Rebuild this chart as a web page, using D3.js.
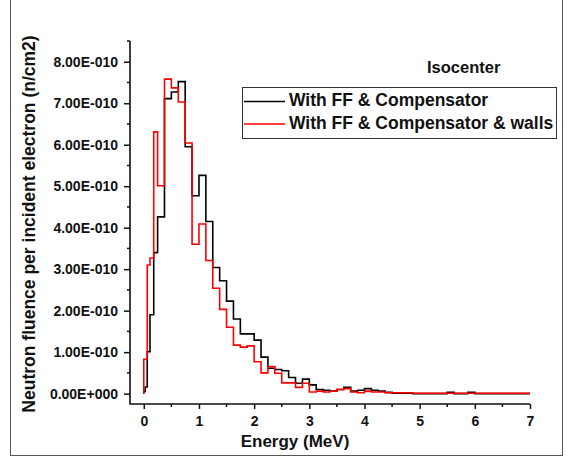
<!DOCTYPE html>
<html>
<head>
<meta charset="utf-8">
<script src="https://cdn.jsdelivr.net/npm/d3@7"></script>
<style>
  body { margin: 0; background: #fff; }
  svg { display: block; }
  text { font-family: "Liberation Sans", Arial, sans-serif; font-weight: bold; fill: #111; }
</style>
</head>
<body>
<div id="chart"></div>
<script>
// Neutron spectrum at isocenter, fluence in units of 1E-010 n/cm2 per incident electron

// bin edges (MeV)
var binEdges = [0, 0.025, 0.0625, 0.1125, 0.18, 0.25, 0.375, 0.5, 0.625, 0.75, 0.875,
  1.0, 1.125, 1.25, 1.375, 1.5, 1.625, 1.75, 1.875, 2.0, 2.125, 2.25, 2.375, 2.5, 2.625,
  2.75, 2.875, 3.0, 3.125, 3.25, 3.375, 3.5, 3.625, 3.75, 3.875, 4.0, 4.125, 4.25, 4.375,
  4.5, 4.625, 4.75, 4.875, 5.0, 5.125, 5.25, 5.375, 5.5, 5.625, 5.75, 5.875, 6.0, 6.125,
  6.25, 6.375, 6.5, 6.625, 6.75, 6.875, 7.0];

var withFF = [0.05, 0.16, 1.01, 1.90, 3.40, 4.26, 7.11, 7.27, 7.52, 5.95,
  4.77, 5.26, 4.15, 3.04, 2.72, 2.23, 1.80, 1.44, 1.44, 1.29, 0.88, 0.61, 0.58, 0.55,
  0.39, 0.25, 0.35, 0.21, 0.10, 0.08, 0.06, 0.10, 0.15, 0.06, 0.08, 0.12, 0.08, 0.06,
  0.03, 0.01, 0.01, 0.01, 0.0, 0.0, 0.0, 0.0, 0.0, 0.03, 0.0, 0.0, 0.03, 0.0, 0.0,
  0.0, 0.0, 0.0, 0.0, 0.0, 0.0];

var withWalls = [0.83, 0.83, 3.10, 3.27, 6.31, 5.01, 7.58, 7.37, 7.03, 6.04,
  3.60, 4.09, 3.21, 2.54, 2.03, 1.60, 1.17, 1.12, 1.15, 0.77, 0.50, 0.65, 0.49, 0.26,
  0.26, 0.15, 0.25, 0.04, 0.06, 0.04, 0.06, 0.10, 0.12, 0.04, 0.02, 0.06, 0.04, 0.04,
  0.02, 0.02, 0.02, 0.02, 0.01, 0.01, 0.01, 0.01, 0.01, 0.01, 0.01, 0.01, 0.01, 0.01, 0.01,
  0.01, 0.01, 0.01, 0.01, 0.01, 0.01];

var seriesNames = ["With FF & Compensator", "With FF & Compensator & walls"];
var seriesColors = ["#000000", "#ff0000"];

var xTicks = [0, 1, 2, 3, 4, 5, 6, 7];
var yTicks = [0, 1, 2, 3, 4, 5, 6, 7, 8];
var yTickLabels = ["0.00E+000", "1.00E-010", "2.00E-010", "3.00E-010", "4.00E-010",
  "5.00E-010", "6.00E-010", "7.00E-010", "8.00E-010"];

var W = 567, H = 459;
var plotBox = { left: 130, right: 530, top: 41, bottom: 404 };

var svg = d3.select("#chart").append("svg")
    .attr("width", W)
    .attr("height", H);

// outer frame of the picture
svg.append("rect")
    .attr("x", 10.5).attr("y", -1)
    .attr("width", 552).attr("height", 456.5)
    .attr("fill", "none")
    .attr("stroke", "#555")
    .attr("stroke-width", 1);

var x = d3.scaleLinear().domain([-0.25, 7]).range([plotBox.left, plotBox.right]);
var y = d3.scaleLinear().domain([-0.25, 8.5]).range([plotBox.bottom, plotBox.top]);

svg.append("clipPath").attr("id", "plotclip")
  .append("rect")
    .attr("x", plotBox.left).attr("y", plotBox.top)
    .attr("width", plotBox.right - plotBox.left)
    .attr("height", plotBox.bottom - plotBox.top);

// step lines
function stepPoints(vals) {
  var pts = [[binEdges[0], 0]];
  vals.forEach(function(v, i) {
    pts.push([binEdges[i], v]);
    pts.push([binEdges[i + 1], v]);
  });
  pts.push([binEdges[binEdges.length - 1], 0]);
  return pts;
}

var line = d3.line()
    .x(function(d) { return x(d[0]); })
    .y(function(d) { return y(d[1]); });

var plot = svg.append("g").attr("clip-path", "url(#plotclip)");

[withFF, withWalls].forEach(function(vals, i) {
  plot.append("path")
      .datum(stepPoints(vals))
      .attr("fill", "none")
      .attr("stroke", seriesColors[i])
      .attr("stroke-width", 1.6)
      .attr("d", line);
});

// x axis
var xAxis = d3.axisBottom(x)
    .tickValues(xTicks)
    .tickSize(5)
    .tickPadding(7)
    .tickFormat(d3.format("d"));

var gx = svg.append("g")
    .attr("transform", "translate(0," + plotBox.bottom + ")")
    .call(xAxis);
gx.selectAll(".tick line").attr("stroke", "#111").attr("stroke-width", 1.5);
gx.selectAll(".tick text").style("font-size", "14px").style("font-family", "Liberation Sans, Arial, sans-serif").attr("fill", "#111");
gx.select(".domain").remove();

svg.append("g").selectAll("line")
  .data(d3.range(0.5, 7, 1))
  .enter().append("line")
    .attr("x1", function(d) { return x(d); })
    .attr("x2", function(d) { return x(d); })
    .attr("y1", plotBox.bottom).attr("y2", plotBox.bottom + 3)
    .attr("stroke", "#111").attr("stroke-width", 1.5);

// y axis
var yAxis = d3.axisLeft(y)
    .tickValues(yTicks)
    .tickSize(6)
    .tickPadding(6)
    .tickFormat(function(d, i) { return yTickLabels[i]; });

var gy = svg.append("g")
    .attr("transform", "translate(" + plotBox.left + ",0)")
    .call(yAxis);
gy.selectAll(".tick line").attr("stroke", "#111").attr("stroke-width", 1.5);
gy.selectAll(".tick text").style("font-size", "14px").style("font-family", "Liberation Sans, Arial, sans-serif").attr("fill", "#111");
gy.select(".domain").remove();

svg.append("g").selectAll("line")
  .data(d3.range(0.5, 8.6, 1))
  .enter().append("line")
    .attr("x1", plotBox.left - 3).attr("x2", plotBox.left)
    .attr("y1", function(d) { return y(d); })
    .attr("y2", function(d) { return y(d); })
    .attr("stroke", "#111").attr("stroke-width", 1.5);

// axis lines
svg.append("path")
    .attr("d", "M" + plotBox.left + "," + plotBox.top + "V" + plotBox.bottom + "H" + plotBox.right)
    .attr("fill", "none")
    .attr("stroke", "#111")
    .attr("stroke-width", 1.6);

// titles
svg.append("text")
    .attr("x", 295).attr("y", 447)
    .attr("text-anchor", "middle")
    .style("font-size", "17px")
    .text("Energy (MeV)");

svg.append("text")
    .attr("transform", "translate(35,224) rotate(-90)")
    .attr("text-anchor", "middle")
    .style("font-size", "17.5px")
    .text("Neutron fluence per incident electron (n/cm2)");

svg.append("text")
    .attr("x", 427).attr("y", 73)
    .style("font-size", "16.5px")
    .text("Isocenter");

// legend
var legend = svg.append("g");
legend.append("rect")
    .attr("x", 242.5).attr("y", 87.5)
    .attr("width", 314).attr("height", 51)
    .attr("fill", "#fff")
    .attr("stroke", "#333")
    .attr("stroke-width", 1);

var item = legend.selectAll(".item")
  .data(seriesNames)
  .enter().append("g")
    .attr("transform", function(d, i) { return "translate(0," + (i * 22.5) + ")"; });

item.append("line")
    .attr("x1", 244).attr("x2", 285)
    .attr("y1", 101.5).attr("y2", 101.5)
    .attr("stroke", function(d, i) { return seriesColors[i]; })
    .attr("stroke-width", 1.6);

item.append("text")
    .attr("x", 289).attr("y", 106)
    .style("font-size", "17.5px")
    .text(function(d) { return d; });
</script>
</body>
</html>
